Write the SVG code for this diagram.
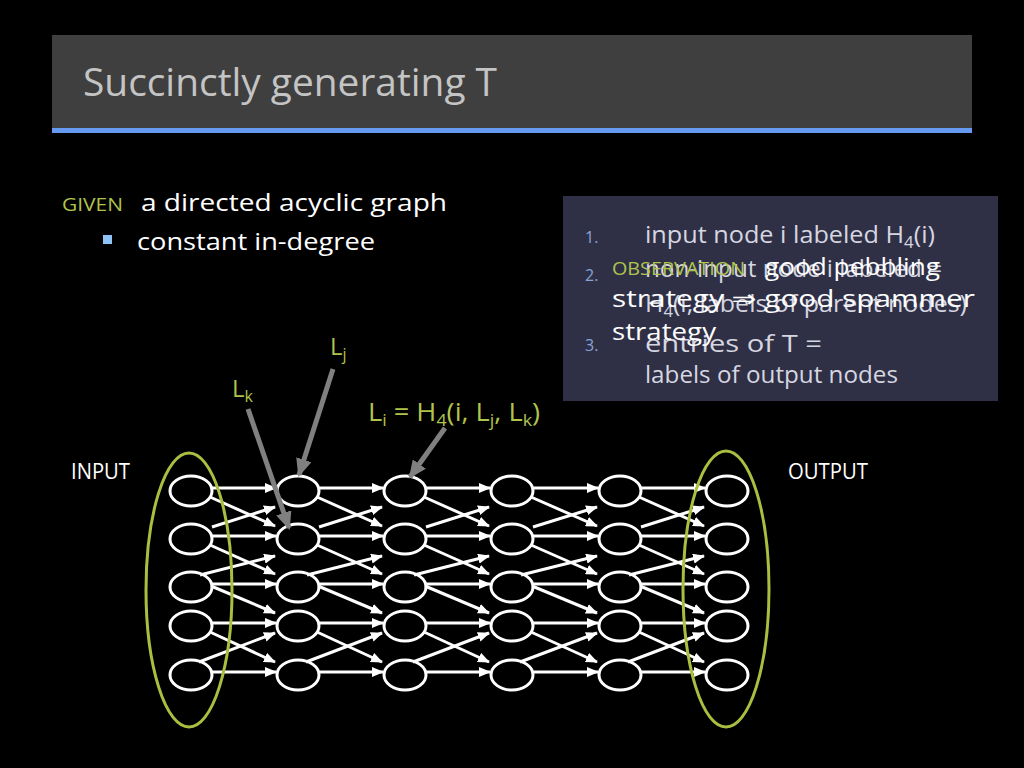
<svg xmlns="http://www.w3.org/2000/svg" width="1024" height="768" viewBox="0 0 1024 768">
<defs>
<style>
text{font-family:"Open Sans","Liberation Sans","DejaVu Sans",sans-serif;}
.w{fill:#ffffff;}
.g{fill:#b0c44c;}
.bx{fill:#d6d6e0;}
.num{fill:#8aa4d6;font-size:16px;}
.node{fill:none;stroke:#ffffff;stroke-width:3;}
.e{fill:none;stroke:#ffffff;stroke-width:3;marker-end:url(#wa);}
.ga{fill:none;stroke:#808080;stroke-width:5;marker-end:url(#gh);}
.grp{fill:none;stroke:#aabf40;stroke-width:3;}
</style>
<marker id="wa" markerUnits="userSpaceOnUse" viewBox="0 0 12 10" markerWidth="12" markerHeight="10" refX="11" refY="5" orient="auto"><path d="M0,0 L12,5 L0,10 z" fill="#ffffff"/></marker>
<marker id="gh" markerUnits="userSpaceOnUse" viewBox="0 0 18 16" markerWidth="18" markerHeight="16" refX="16" refY="8" orient="auto"><path d="M0,0 L18,8 L0,16 z" fill="#808080"/></marker>
</defs>
<rect width="1024" height="768" fill="#000000"/>
<g id="header">
<rect x="52" y="35" width="920" height="93" fill="#3f3f3f"/>
<rect x="52" y="128" width="920" height="5" fill="#6699f0"/>
<text x="83" y="96" font-size="38" fill="#c4c4c4" textLength="414" lengthAdjust="spacingAndGlyphs">Succinctly generating T</text>
</g>
<g id="given">
<text x="62" y="211" font-size="18" class="g" textLength="61" lengthAdjust="spacingAndGlyphs">GIVEN</text>
<text x="141" y="211" font-size="24" class="w" textLength="306" lengthAdjust="spacingAndGlyphs">a directed acyclic graph</text>
<rect x="103" y="235" width="9" height="9" fill="#8ec3f5"/>
<text x="137" y="250" font-size="24" class="w" textLength="238" lengthAdjust="spacingAndGlyphs">constant in-degree</text>
</g>
<g id="box">
<rect x="563" y="196" width="435" height="205" fill="#2f3046"/>
<text x="585" y="243" class="num">1.</text>
<text x="585" y="281" class="num">2.</text>
<text x="585" y="351" class="num">3.</text>
<text x="645" y="243" font-size="24" class="bx" textLength="290" lengthAdjust="spacingAndGlyphs">input node i labeled H<tspan dy="5" font-size="16">4</tspan><tspan dy="-5">(i)</tspan></text>
<text x="645" y="277" font-size="24" class="bx" textLength="297" lengthAdjust="spacingAndGlyphs">non-input node i labeled =</text>
<text x="645" y="312" font-size="24" class="bx" textLength="322" lengthAdjust="spacingAndGlyphs">H<tspan dy="5" font-size="16">4</tspan><tspan dy="-5">(i, labels of parent nodes)</tspan></text>
<text x="645" y="352" font-size="24" class="bx" textLength="177" lengthAdjust="spacingAndGlyphs">entries of T =</text>
<text x="645" y="383" font-size="24" class="bx" textLength="253" lengthAdjust="spacingAndGlyphs">labels of output nodes</text>
<text x="612" y="275" font-size="18" class="g" textLength="133" lengthAdjust="spacingAndGlyphs">OBSERVATION</text>
<text x="765" y="275" font-size="24" class="w" textLength="175" lengthAdjust="spacingAndGlyphs">good pebbling</text>
<text x="612" y="307" font-size="24" class="w" textLength="363" lengthAdjust="spacingAndGlyphs">strategy ⇒ good spammer</text>
<text x="612" y="340" font-size="24" class="w" textLength="104" lengthAdjust="spacingAndGlyphs">strategy</text>
</g>
<g id="io-labels">
<text x="71" y="479" font-size="21" class="w" textLength="59" lengthAdjust="spacingAndGlyphs">INPUT</text>
<text x="788" y="479" font-size="21" class="w" textLength="80" lengthAdjust="spacingAndGlyphs">OUTPUT</text>
</g>
<g id="connectors">
<path class="e" d="M212,488H276"/><path class="e" d="M212,536H276"/><path class="e" d="M212,584H276"/><path class="e" d="M212,623H276"/><path class="e" d="M212,672H276"/>
<path class="e" d="M210,497L275,526"/><path class="e" d="M212,527L275,507"/><path class="e" d="M210,545L275,574"/><path class="e" d="M200,575L275,556"/><path class="e" d="M211,586L275,613"/><path class="e" d="M210,632L275,662"/><path class="e" d="M199,662L275,633"/>
<path class="e" d="M319,488H383"/><path class="e" d="M319,536H383"/><path class="e" d="M319,584H383"/><path class="e" d="M319,623H383"/><path class="e" d="M319,672H383"/>
<path class="e" d="M317,497L382,526"/><path class="e" d="M319,527L382,507"/><path class="e" d="M317,545L382,574"/><path class="e" d="M307,575L382,556"/><path class="e" d="M318,586L382,613"/><path class="e" d="M317,632L382,662"/><path class="e" d="M306,662L382,633"/>
<path class="e" d="M426,488H490"/><path class="e" d="M426,536H490"/><path class="e" d="M426,584H490"/><path class="e" d="M426,623H490"/><path class="e" d="M426,672H490"/>
<path class="e" d="M424,497L489,526"/><path class="e" d="M426,527L489,507"/><path class="e" d="M424,545L489,574"/><path class="e" d="M414,575L489,556"/><path class="e" d="M425,586L489,613"/><path class="e" d="M424,632L489,662"/><path class="e" d="M413,662L489,633"/>
<path class="e" d="M533,488H598"/><path class="e" d="M533,536H598"/><path class="e" d="M533,584H598"/><path class="e" d="M533,623H598"/><path class="e" d="M533,672H598"/>
<path class="e" d="M531,497L597,526"/><path class="e" d="M533,527L597,507"/><path class="e" d="M531,545L597,574"/><path class="e" d="M521,575L597,556"/><path class="e" d="M532,586L597,613"/><path class="e" d="M531,632L597,662"/><path class="e" d="M520,662L597,633"/>
<path class="e" d="M641,488H705"/><path class="e" d="M641,536H705"/><path class="e" d="M641,584H705"/><path class="e" d="M641,623H705"/><path class="e" d="M641,672H705"/>
<path class="e" d="M639,497L704,526"/><path class="e" d="M641,527L704,507"/><path class="e" d="M639,545L704,574"/><path class="e" d="M629,575L704,556"/><path class="e" d="M640,586L704,613"/><path class="e" d="M639,632L704,662"/><path class="e" d="M628,662L704,633"/>
</g>
<g id="nodes">
<g id="n1-1"><ellipse class="node" cx="191" cy="491" rx="21" ry="15"/></g>
<g id="n1-2"><ellipse class="node" cx="191" cy="539" rx="21" ry="15"/></g>
<g id="n1-3"><ellipse class="node" cx="191" cy="587" rx="21" ry="15"/></g>
<g id="n1-4"><ellipse class="node" cx="191" cy="626" rx="21" ry="15"/></g>
<g id="n1-5"><ellipse class="node" cx="191" cy="675" rx="21" ry="15"/></g>
<g id="n2-1"><ellipse class="node" cx="298" cy="491" rx="21" ry="15"/></g>
<g id="n2-2"><ellipse class="node" cx="298" cy="539" rx="21" ry="15"/></g>
<g id="n2-3"><ellipse class="node" cx="298" cy="587" rx="21" ry="15"/></g>
<g id="n2-4"><ellipse class="node" cx="298" cy="626" rx="21" ry="15"/></g>
<g id="n2-5"><ellipse class="node" cx="298" cy="675" rx="21" ry="15"/></g>
<g id="n3-1"><ellipse class="node" cx="405" cy="491" rx="21" ry="15"/></g>
<g id="n3-2"><ellipse class="node" cx="405" cy="539" rx="21" ry="15"/></g>
<g id="n3-3"><ellipse class="node" cx="405" cy="587" rx="21" ry="15"/></g>
<g id="n3-4"><ellipse class="node" cx="405" cy="626" rx="21" ry="15"/></g>
<g id="n3-5"><ellipse class="node" cx="405" cy="675" rx="21" ry="15"/></g>
<g id="n4-1"><ellipse class="node" cx="512" cy="491" rx="21" ry="15"/></g>
<g id="n4-2"><ellipse class="node" cx="512" cy="539" rx="21" ry="15"/></g>
<g id="n4-3"><ellipse class="node" cx="512" cy="587" rx="21" ry="15"/></g>
<g id="n4-4"><ellipse class="node" cx="512" cy="626" rx="21" ry="15"/></g>
<g id="n4-5"><ellipse class="node" cx="512" cy="675" rx="21" ry="15"/></g>
<g id="n5-1"><ellipse class="node" cx="620" cy="491" rx="21" ry="15"/></g>
<g id="n5-2"><ellipse class="node" cx="620" cy="539" rx="21" ry="15"/></g>
<g id="n5-3"><ellipse class="node" cx="620" cy="587" rx="21" ry="15"/></g>
<g id="n5-4"><ellipse class="node" cx="620" cy="626" rx="21" ry="15"/></g>
<g id="n5-5"><ellipse class="node" cx="620" cy="675" rx="21" ry="15"/></g>
<g id="n6-1"><ellipse class="node" cx="727" cy="491" rx="21" ry="15"/></g>
<g id="n6-2"><ellipse class="node" cx="727" cy="539" rx="21" ry="15"/></g>
<g id="n6-3"><ellipse class="node" cx="727" cy="587" rx="21" ry="15"/></g>
<g id="n6-4"><ellipse class="node" cx="727" cy="626" rx="21" ry="15"/></g>
<g id="n6-5"><ellipse class="node" cx="727" cy="675" rx="21" ry="15"/></g>
</g>
<g id="input-group"><ellipse class="grp" cx="189" cy="590" rx="43" ry="137"/></g>
<g id="output-group"><ellipse class="grp" cx="726" cy="589" rx="43" ry="138"/></g>
<g id="label-pointers">
<path class="ga" d="M248,409L289,528"/>
<path class="ga" d="M333,369L299,475"/>
<path class="ga" d="M445,428L410,477"/>
</g>
<g id="labels">
<text x="232" y="397" font-size="24" class="g">L<tspan dy="5" font-size="16">k</tspan></text>
<text x="330" y="355" font-size="24" class="g">L<tspan dy="5" font-size="16">j</tspan></text>
<text x="368" y="421" font-size="26" class="g" textLength="172" lengthAdjust="spacingAndGlyphs">L<tspan dy="5" font-size="17">i</tspan><tspan dy="-5"> = H</tspan><tspan dy="5" font-size="17">4</tspan><tspan dy="-5">(i, L</tspan><tspan dy="5" font-size="17">j</tspan><tspan dy="-5">, L</tspan><tspan dy="5" font-size="17">k</tspan><tspan dy="-5">)</tspan></text>
</g>
</svg>
